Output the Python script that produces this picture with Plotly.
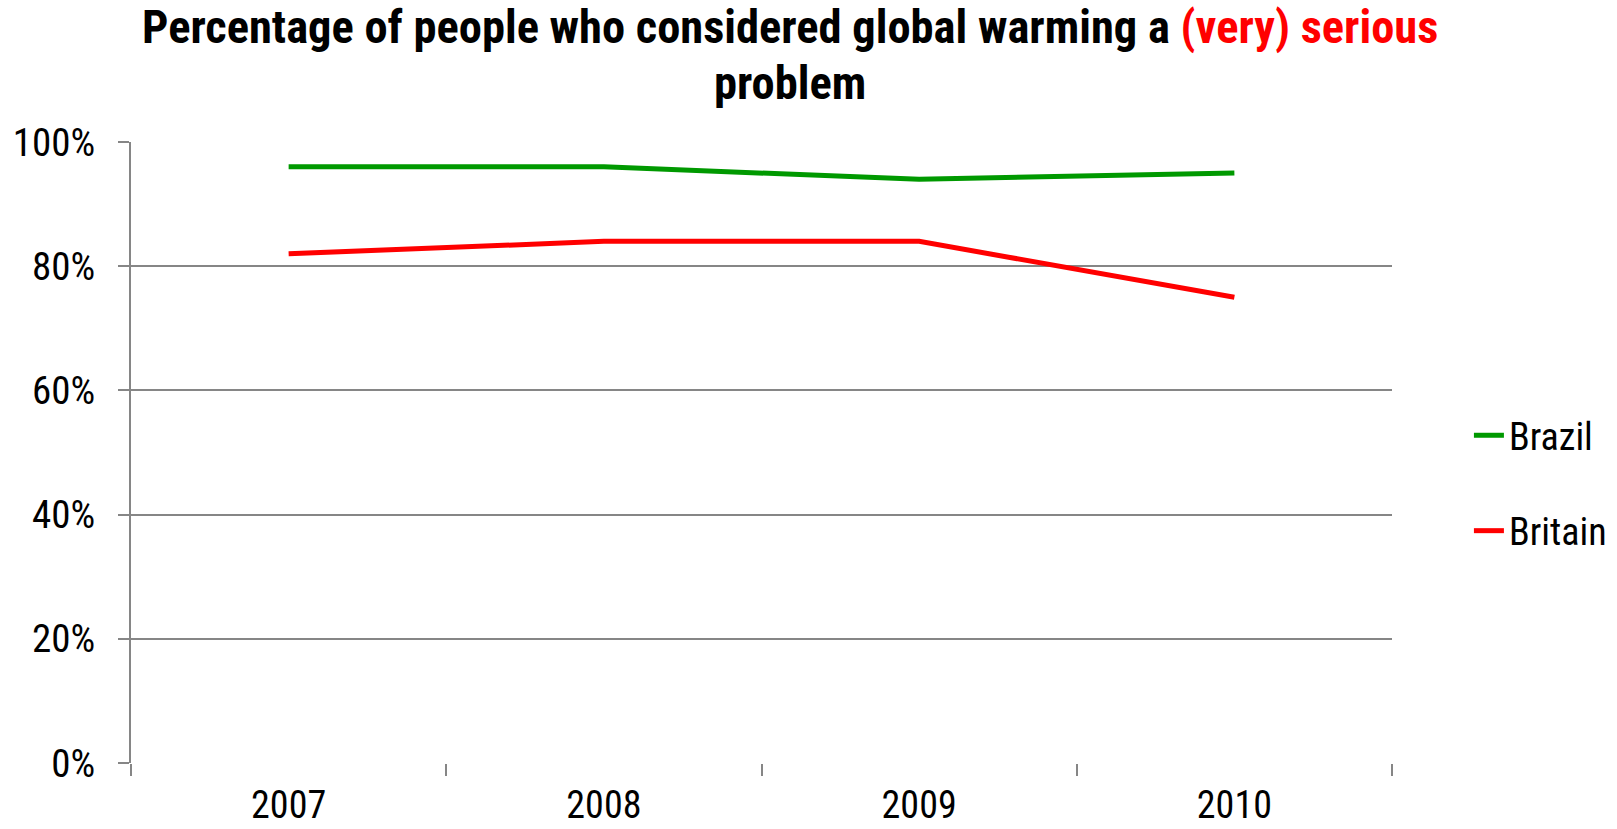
import plotly.graph_objects as go

# Survey results: share answering "very serious" or "serious"
years = ["2007", "2008", "2009", "2010"]
brazil = [0.96, 0.96, 0.94, 0.95]
britain = [0.82, 0.84, 0.84, 0.75]
y_ticks = [0, 0.2, 0.4, 0.6, 0.8, 1.0]
y_tick_labels = ["0%", "20%", "40%", "60%", "80%", "100%"]
title_lines = [
    "<b>Percentage of people who considered global warming a "
    "<span style='color:#ff0000'>(very) serious</span></b>",
    "<b>problem</b>",
]

FONT = "Roboto Condensed, Open Sans Condensed, sans-serif"
GRID = "#868686"

fig = go.Figure()
fig.add_trace(go.Scatter(
    x=years, y=brazil, name="Brazil", mode="lines", legendgroup="a",
    line=dict(color="#009900", width=5),
))
fig.add_trace(go.Scatter(
    x=years, y=britain, name="Britain", mode="lines", legendgroup="b",
    line=dict(color="#ff0000", width=5),
))

# two-line heading, each line placed above the plot area
for text, ypos in zip(title_lines, [1.185, 1.095]):
    fig.add_annotation(
        text=text, x=0.5226, xref="paper", xanchor="center",
        y=ypos, yref="paper", yanchor="middle", showarrow=False,
        font=dict(family=FONT, size=46.5, color="black"),
    )

fig.update_layout(
    width=1617, height=829,
    margin=dict(l=131, r=225, t=142, b=66, autoexpand=False),
    paper_bgcolor="white", plot_bgcolor="white",
    font=dict(family=FONT, color="black", size=38),
    showlegend=True,
    legend=dict(
        x=1.061, xanchor="left", y=0.578, yanchor="top",
        font=dict(family=FONT, size=38, color="black"),
        tracegroupgap=43, traceorder="grouped",
        bgcolor="rgba(0,0,0,0)",
    ),
    xaxis=dict(
        type="category", range=[-0.5, 3.5], automargin=False,
        showline=False, showgrid=False, zeroline=False,
        ticks="outside", tickson="boundaries", ticklen=12,
        tickcolor=GRID, tickwidth=2, ticklabelstandoff=16,
        tickfont=dict(size=38),
    ),
    yaxis=dict(
        range=[0, 1.0], tickvals=y_ticks, ticktext=y_tick_labels,
        automargin=False,
        showgrid=True, gridcolor=GRID, gridwidth=2,
        showline=True, linecolor=GRID, linewidth=2,
        zeroline=False, ticks="outside", ticklen=11,
        tickcolor=GRID, tickwidth=2, ticklabelstandoff=15,
        tickfont=dict(size=39),
    ),
)

fig.write_html("out.html")
